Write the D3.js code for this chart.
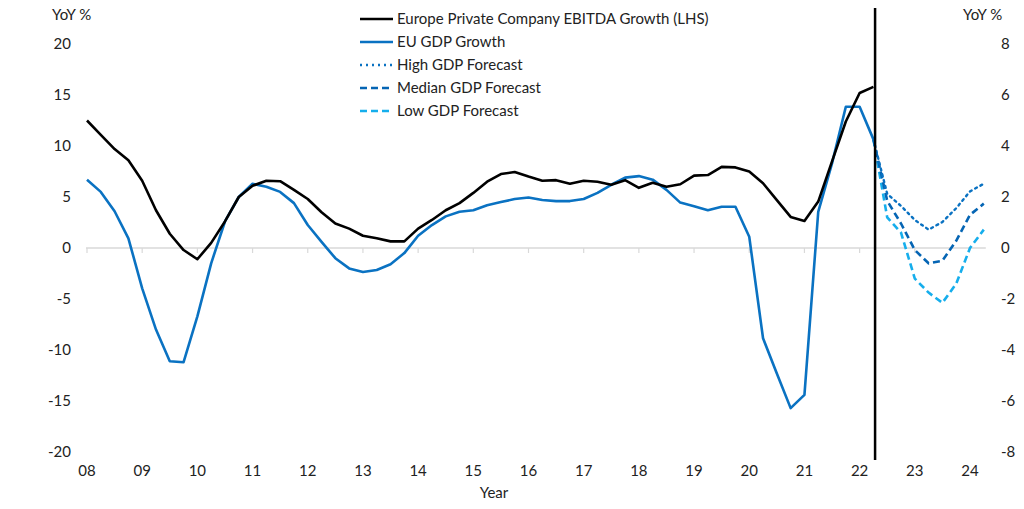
<!DOCTYPE html>
<html><head><meta charset="utf-8">
<script src="https://cdn.jsdelivr.net/npm/d3@7"></script>
<style>body{margin:0;background:#fff}svg{display:block}text{font-family:Lato,"Open Sans",sans-serif;fill:#222}</style>
</head><body><div id="chart"></div>
<script>
// ---- data ----
const startYear = 2008;            // first quarter (2008 Q1)
const ebitda = [12.5,11.1,9.7,8.6,6.6,3.7,1.4,-0.2,-1.1,0.5,2.6,5.0,6.1,6.6,6.55,5.7,4.8,3.5,2.4,1.9,
  1.2,0.95,0.65,0.65,1.9,2.75,3.7,4.4,5.4,6.5,7.25,7.45,7.0,6.6,6.65,6.3,6.6,6.5,6.2,6.65,
  5.9,6.4,6.0,6.25,7.1,7.15,7.95,7.9,7.5,6.35,4.7,3.05,2.65,4.55,8.5,12.4,15.2,15.8]; // LHS
const gdp = [2.68,2.2,1.44,0.38,-1.58,-3.2,-4.44,-4.48,-2.68,-0.6,1.04,2.0,2.52,2.4,2.2,1.76,0.9,0.24,-0.4,-0.8,
  -0.94,-0.86,-0.64,-0.2,0.48,0.9,1.24,1.42,1.48,1.68,1.8,1.92,1.98,1.88,1.84,1.84,1.92,2.16,2.48,2.76,
  2.82,2.68,2.28,1.78,1.64,1.48,1.62,1.62,0.44,-3.54,-4.92,-6.28,-5.76,1.42,3.32,5.54,5.54,4.26]; // RHS
const fcStartIndex = 57; // 2022 Q2
const highFc   = [4.26,2.12,1.65,1.1,0.72,1.02,1.56,2.22,2.52];
const medianFc = [4.26,1.85,0.96,-0.08,-0.6,-0.5,0.28,1.3,1.74];
const lowFc    = [4.26,1.2,0.6,-1.2,-1.75,-2.15,-1.4,0.0,0.72];
const yearLabels = ["08","09","10","11","12","13","14","15","16","17","18","19","20","21","22","23","24"];
const leftTicks = [20,15,10,5,0,-5,-10,-15,-20];
const rightTicks = [8,6,4,2,0,-2,-4,-6,-8];
const forecastLineDate = 2022.28;
const legendItems = [
  {label:"Europe Private Company EBITDA Growth (LHS)", color:"#000000", dash:null},
  {label:"EU GDP Growth", color:"#0A72C2", dash:null},
  {label:"High GDP Forecast", color:"#0A72C2", dash:"2,4"},
  {label:"Median GDP Forecast", color:"#0565B4", dash:"7,4"},
  {label:"Low GDP Forecast", color:"#16AEEC", dash:"7,4"}
];

// ---- layout ----
const W=1024,H=509;
const svg=d3.select("#chart").append("svg").attr("width",W).attr("height",H);
const x=d3.scaleLinear().domain([2008,2024]).range([87,970]);
const yL=d3.scaleLinear().domain([-20,20]).range([452,44]);
const yR=d3.scaleLinear().domain([-8,8]).range([452,44]);
const qDate=i=>startYear+i/4;

// zero line
svg.append("line").attr("x1",x(2008)-1).attr("x2",x(qDate(65))+2)
  .attr("y1",yL(0)).attr("y2",yL(0)).attr("stroke","#d9d9d9").attr("stroke-width",1.5);
svg.append("g").selectAll("line").data(yearLabels.slice(0,16)).join("line")
  .attr("x1",(d,i)=>x(2008+i)).attr("x2",(d,i)=>x(2008+i))
  .attr("y1",yL(0)).attr("y2",yL(0)+5).attr("stroke","#d9d9d9").attr("stroke-width",1.2);

// axes labels
const fs=15;
svg.append("g").selectAll("text").data(leftTicks).join("text")
  .attr("x",71).attr("y",d=>yL(d)+5).attr("text-anchor","end").attr("font-size",fs).text(d=>d);
svg.append("g").selectAll("text").data(rightTicks).join("text")
  .attr("x",1001).attr("y",d=>yR(d)+5).attr("text-anchor","start").attr("font-size",fs).text(d=>d);
svg.append("text").attr("x",52).attr("y",20).attr("font-size",fs).text("YoY %");
svg.append("text").attr("x",963).attr("y",20).attr("font-size",fs).text("YoY %");
svg.append("g").selectAll("text").data(yearLabels).join("text")
  .attr("x",(d,i)=>x(2008+i)).attr("y",476).attr("text-anchor","middle").attr("font-size",fs).text(d=>d);
svg.append("text").attr("x",494).attr("y",498).attr("text-anchor","middle").attr("font-size",fs).text("Year");

// lines
const lineL=d3.line().x((d,i)=>x(qDate(i))).y(d=>yL(d));
const lineR=d3.line().x((d,i)=>x(qDate(i))).y(d=>yR(d));
const lineFc=d3.line().x((d,i)=>x(qDate(fcStartIndex+i))).y(d=>yR(d));

svg.append("path").attr("d",lineR(gdp)).attr("fill","none").attr("stroke","#0A72C2").attr("stroke-width",2.6).attr("stroke-linejoin","round");
svg.append("path").attr("d",lineL(ebitda)).attr("fill","none").attr("stroke","#000").attr("stroke-width",2.6).attr("stroke-linejoin","round");
svg.append("path").attr("d",lineFc(lowFc)).attr("fill","none").attr("stroke","#16AEEC").attr("stroke-width",2.6).attr("stroke-dasharray","7,4");
svg.append("path").attr("d",lineFc(medianFc)).attr("fill","none").attr("stroke","#0565B4").attr("stroke-width",2.6).attr("stroke-dasharray","7,4");
svg.append("path").attr("d",lineFc(highFc)).attr("fill","none").attr("stroke","#0A72C2").attr("stroke-width",2.4).attr("stroke-dasharray","2,4").attr("stroke-linecap","round");

// vertical forecast marker
svg.append("line").attr("x1",x(forecastLineDate)).attr("x2",x(forecastLineDate))
  .attr("y1",8).attr("y2",460).attr("stroke","#000").attr("stroke-width",2.5);

// legend
const lg=svg.append("g").selectAll("g").data(legendItems).join("g")
  .attr("transform",(d,i)=>`translate(360,${19+i*23})`);
lg.append("line").attr("x1",0).attr("x2",33).attr("y1",0).attr("y2",0)
  .attr("stroke",d=>d.color).attr("stroke-width",2.6)
  .attr("stroke-dasharray",d=>d.dash);
lg.append("text").attr("x",37).attr("y",5).attr("font-size",15).text(d=>d.label);
</script></body></html>
